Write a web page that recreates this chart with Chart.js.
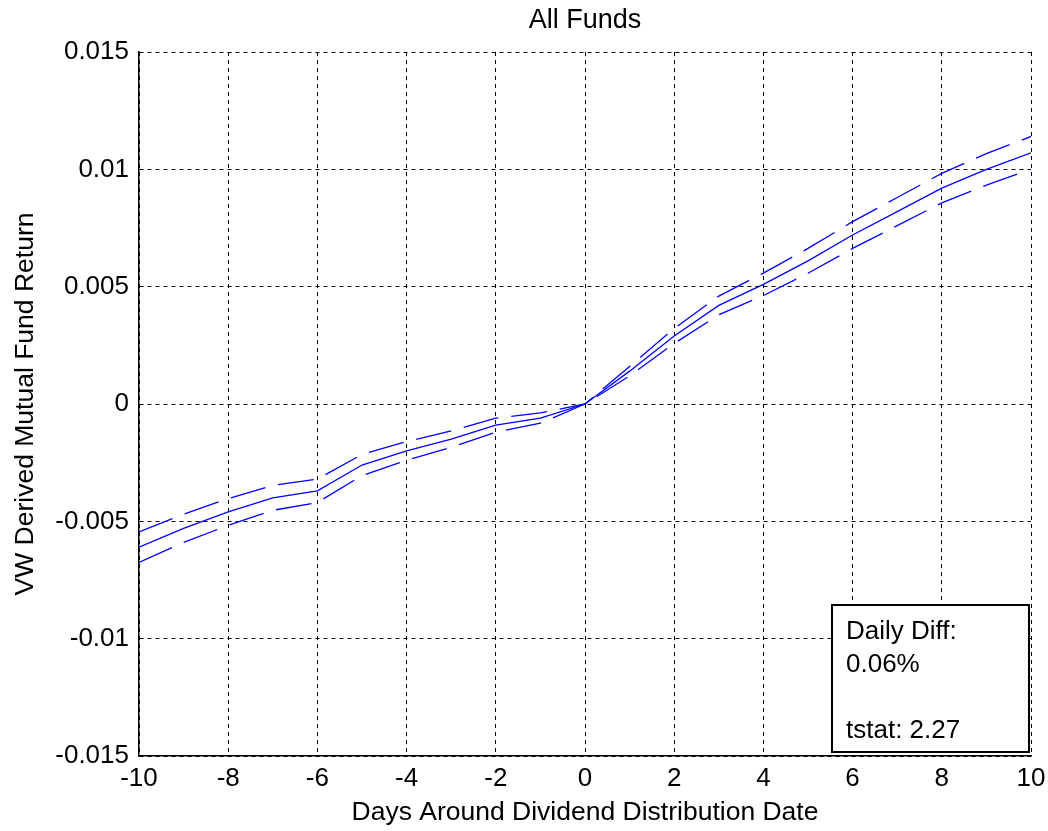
<!DOCTYPE html>
<html>
<head>
<meta charset="utf-8">
<script src="https://cdn.jsdelivr.net/npm/chart.js@4.4.0/dist/chart.umd.min.js"></script>
<style>
  html, body { margin: 0; padding: 0; background: #fff; }
  #wrap { width: 1048px; height: 831px; position: relative; }
</style>
</head>
<body>
<div id="wrap"><canvas id="c" width="1048" height="831"></canvas></div>
<script>
// ---- data ----
const days = [-10,-9,-8,-7,-6,-5,-4,-3,-2,-1,0,1,2,3,4,5,6,7,8,9,10];
const meanReturn = [-0.0061,-0.0053,-0.0046,-0.0040,-0.0037,-0.0026,-0.0020,-0.0015,-0.0009,-0.0006,0,0.0014,0.0029,0.0042,0.0051,0.0061,0.0072,0.0082,0.0092,0.0100,0.0107];
const upperBand = [-0.00545,-0.0047,-0.00403,-0.00347,-0.0032,-0.00215,-0.0016,-0.00115,-0.0006,-0.00038,0,0.0016,0.00322,0.0046,0.00558,0.00663,0.00777,0.0088,0.00983,0.01067,0.0114];
const lowerBand = [-0.00675,-0.0059,-0.00517,-0.00453,-0.0042,-0.00305,-0.0024,-0.00185,-0.0012,-0.00082,0,0.0012,0.00258,0.0038,0.00462,0.00557,0.00663,0.0076,0.00857,0.00933,0.0100];
const yTickValues = [-0.015,-0.01,-0.005,0,0.005,0.01,0.015];
const yTickLabels = ['-0.015','-0.01','-0.005','0','0.005','0.01','0.015'];
const xTickLabels = ['-10','-8','-6','-4','-2','0','2','4','6','8','10'];
const boxLines = ['Daily Diff:', '0.06%', '', 'tstat: 2.27'];

const FONT = '"Liberation Sans", Arial, sans-serif';
const toPts = ys => days.map((d, i) => ({x: d, y: ys[i]}));

const textBox = {
  id: 'textBox',
  afterDraw(chart) {
    const {ctx, chartArea} = chart;
    const w = 197, h = 147;
    const x = chartArea.right - 2 - w, y = chartArea.bottom - 4 - h;
    ctx.save();
    ctx.fillStyle = '#fff';
    ctx.fillRect(x, y, w, h);
    ctx.lineWidth = 2;
    ctx.strokeStyle = '#000';
    ctx.strokeRect(x, y, w, h);
    ctx.fillStyle = '#000';
    ctx.font = '26px ' + FONT;
    ctx.textBaseline = 'alphabetic';
    ctx.textAlign = 'left';
    const base = [34, 67, 99, 133];
    boxLines.forEach((t, i) => { if (t) ctx.fillText(t, x + 14, y + base[i]); });
    ctx.restore();
  }
};

new Chart(document.getElementById('c'), {
  type: 'line',
  data: {
    datasets: [
      { data: toPts(meanReturn), borderColor: '#0000ff', borderWidth: 1.3, pointRadius: 0, tension: 0, fill: false },
      { data: toPts(upperBand), borderColor: '#0000ff', borderWidth: 1.3, borderDash: [36, 13], pointRadius: 0, tension: 0, fill: false },
      { data: toPts(lowerBand), borderColor: '#0000ff', borderWidth: 1.3, borderDash: [36, 13], pointRadius: 0, tension: 0, fill: false }
    ]
  },
  options: {
    responsive: false,
    animation: false,
    devicePixelRatio: 1,
    layout: { padding: { left: 0, right: 17, top: 0, bottom: 0 } },
    plugins: {
      legend: { display: false },
      tooltip: { enabled: false },
      title: {
        display: true,
        fullSize: false,
        text: 'All Funds',
        color: '#000',
        font: { family: FONT, size: 27, weight: 'normal', lineHeight: 1.2 },
        padding: { top: 4, bottom: 15.6 }
      }
    },
    scales: {
      x: {
        type: 'linear',
        min: -10, max: 10,
        afterFit(s) { s.height = 75; s.paddingLeft = 0; s.paddingRight = 0; },
        afterBuildTicks(s) { s.ticks = xTickLabels.map(v => ({value: Number(v)})); },
        ticks: {
          color: '#000',
          font: { family: FONT, size: 26 },
          padding: 7,
          maxRotation: 0,
          autoSkip: false,
          callback: (v, i) => xTickLabels[i]
        },
        grid: { color: '#000', lineWidth: 1, drawTicks: false },
        border: { display: true, color: '#000', width: 1.5, dash: [4, 4] },
        title: {
          display: true,
          text: 'Days Around Dividend Distribution Date',
          color: '#000',
          font: { family: FONT, size: 26.5 },
          padding: { top: 2, bottom: 2 }
        }
      },
      y: {
        type: 'linear',
        min: -0.015, max: 0.015,
        afterFit(s) { s.width = 139; s.paddingTop = 0; s.paddingBottom = 0; },
        afterBuildTicks(s) { s.ticks = yTickValues.map(v => ({value: v})); },
        ticks: {
          color: '#000',
          font: { family: FONT, size: 26 },
          padding: 10,
          autoSkip: false,
          callback: (v, i) => yTickLabels[i]
        },
        grid: { color: '#000', lineWidth: 1, drawTicks: false },
        border: { display: true, color: '#000', width: 1.5, dash: [4, 4] },
        title: {
          display: true,
          text: 'VW Derived Mutual Fund Return',
          color: '#000',
          font: { family: FONT, size: 26.5 },
          padding: { top: 10, bottom: 0 }
        }
      }
    }
  },
  plugins: [textBox]
});
</script>
</body>
</html>
